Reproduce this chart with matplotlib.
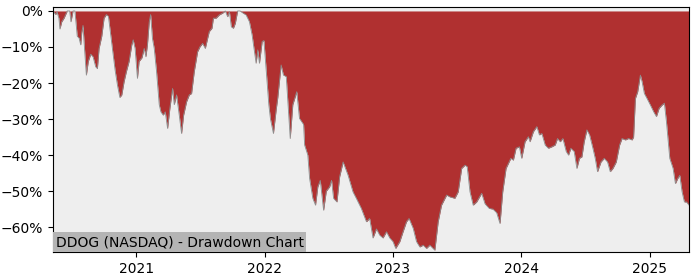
import matplotlib
matplotlib.use("Agg")
import matplotlib.pyplot as plt
import matplotlib.dates as mdates
import numpy as np
import pandas as pd
from matplotlib.ticker import PercentFormatter

# dates as decimal years, drawdown in percent
years = [
    2020.352, 2020.373, 2020.383, 2020.398, 2020.406, 2020.420, 2020.438, 2020.463,
    2020.482, 2020.492, 2020.508, 2020.523, 2020.541, 2020.555, 2020.568, 2020.576,
    2020.586, 2020.594, 2020.612, 2020.627, 2020.646, 2020.664, 2020.685, 2020.698,
    2020.711, 2020.732, 2020.750, 2020.768, 2020.784, 2020.802, 2020.820, 2020.836,
    2020.854, 2020.873, 2020.888, 2020.906, 2020.924, 2020.945, 2020.966, 2020.977,
    2020.992, 2021.010, 2021.023, 2021.045, 2021.063, 2021.076, 2021.088, 2021.102,
    2021.113, 2021.127, 2021.141, 2021.159, 2021.180, 2021.193, 2021.211, 2021.227,
    2021.245, 2021.263, 2021.284, 2021.297, 2021.315, 2021.336, 2021.354, 2021.370,
    2021.393, 2021.414, 2021.432, 2021.453, 2021.479, 2021.498, 2021.518, 2021.539,
    2021.557, 2021.570, 2021.591, 2021.602, 2021.623, 2021.648, 2021.674, 2021.695,
    2021.713, 2021.727, 2021.742, 2021.758, 2021.773, 2021.791, 2021.810, 2021.830,
    2021.857, 2021.883, 2021.904, 2021.922, 2021.935, 2021.948, 2021.961, 2021.982,
    2021.996, 2022.013, 2022.034, 2022.047, 2022.070, 2022.091, 2022.104, 2022.130,
    2022.148, 2022.170, 2022.182, 2022.201, 2022.221, 2022.252, 2022.273, 2022.305,
    2022.313, 2022.338, 2022.352, 2022.377, 2022.398, 2022.416, 2022.435, 2022.461,
    2022.482, 2022.508, 2022.523, 2022.539, 2022.565, 2022.586, 2022.613, 2022.651,
    2022.690, 2022.716, 2022.755, 2022.795, 2022.820, 2022.846, 2022.873, 2022.898,
    2022.924, 2022.951, 2022.977, 2023.002, 2023.023, 2023.055, 2023.080, 2023.107,
    2023.127, 2023.159, 2023.185, 2023.211, 2023.237, 2023.263, 2023.289, 2023.328,
    2023.354, 2023.380, 2023.420, 2023.445, 2023.484, 2023.510, 2023.537, 2023.563,
    2023.580, 2023.602, 2023.627, 2023.654, 2023.693, 2023.719, 2023.752, 2023.781,
    2023.810, 2023.836, 2023.857, 2023.883, 2023.920, 2023.940, 2023.961, 2023.987,
    2024.005, 2024.031, 2024.057, 2024.070, 2024.096, 2024.123, 2024.143, 2024.162,
    2024.188, 2024.213, 2024.240, 2024.266, 2024.284, 2024.305, 2024.326, 2024.352,
    2024.370, 2024.388, 2024.414, 2024.435, 2024.455, 2024.474, 2024.492, 2024.513,
    2024.534, 2024.560, 2024.578, 2024.596, 2024.623, 2024.648, 2024.674, 2024.695,
    2024.716, 2024.742, 2024.768, 2024.787, 2024.813, 2024.838, 2024.865, 2024.877,
    2024.891, 2024.909, 2024.930, 2024.943, 2024.961, 2024.982, 2025.008, 2025.034,
    2025.055, 2025.076, 2025.099, 2025.117, 2025.133, 2025.159, 2025.185, 2025.203,
    2025.221, 2025.237, 2025.255, 2025.273, 2025.289, 2025.309,
]
drawdown = [
    0.0, -1.0, -0.2, -2.0, -5.0, -3.0, -2.0, 0.0,
    0.0, -3.0, 0.0, 0.0, -7.0, -7.5, -9.4, -6.0,
    -4.0, -8.5, -17.8, -14.0, -12.0, -12.7, -15.5, -16.0,
    -10.4, -7.0, -2.0, -1.0, -1.5, -6.7, -12.0, -16.4,
    -20.5, -24.0, -23.3, -19.6, -16.8, -14.0, -9.4, -8.0,
    -10.4, -18.7, -14.0, -13.0, -10.4, -12.7, -9.4, -3.0,
    -1.0, -7.6, -10.4, -16.8, -26.0, -28.0, -28.9, -28.0,
    -32.6, -27.0, -21.5, -26.0, -23.3, -28.9, -34.0, -28.9,
    -25.2, -23.3, -22.9, -16.8, -11.3, -9.9, -9.0, -10.4,
    -7.6, -5.7, -4.8, -2.0, -2.0, -1.1, -0.6, 0.0,
    -1.6, -0.2, -4.4, -4.8, -3.4, 0.0, 0.0, -0.5,
    -1.1, -3.0, -6.7, -11.3, -14.5, -10.8, -14.5, -8.5,
    -8.2, -16.0, -26.0, -30.0, -34.0, -27.5, -24.0, -15.0,
    -17.8, -18.2, -25.0, -35.4, -26.0, -22.4, -29.8, -31.5,
    -37.2, -40.0, -46.5, -52.0, -53.9, -48.8, -47.0, -55.3,
    -50.0, -48.8, -47.0, -52.0, -53.0, -46.0, -41.9, -45.5,
    -50.2, -52.0, -54.8, -58.5, -57.6, -63.0, -60.5, -62.2,
    -63.0, -61.3, -63.0, -64.0, -65.9, -64.0, -61.3, -58.5,
    -57.6, -60.3, -64.0, -65.5, -65.0, -65.9, -65.0, -66.4,
    -58.5, -53.9, -51.1, -51.6, -52.0, -50.2, -43.7, -42.8,
    -43.2, -50.2, -53.9, -53.0, -50.6, -53.5, -54.8, -55.0,
    -56.0, -59.0, -50.2, -43.7, -40.9, -41.4, -38.1, -37.7,
    -40.9, -36.3, -34.9, -36.3, -33.5, -32.1, -34.4, -34.0,
    -37.2, -38.1, -37.7, -37.2, -35.4, -36.3, -35.4, -39.0,
    -40.0, -38.1, -39.0, -43.7, -40.9, -40.5, -36.3, -33.0,
    -34.4, -38.1, -40.9, -44.6, -41.9, -40.9, -41.9, -44.6,
    -43.7, -41.9, -37.2, -35.4, -35.8, -35.4, -35.8, -35.0,
    -24.3, -22.4, -17.8, -19.6, -22.9, -24.3, -26.1, -28.0,
    -29.3, -27.0, -26.1, -25.6, -30.7, -40.9, -43.7, -47.9,
    -46.5, -45.6, -50.2, -53.0, -53.0, -53.9,
]
title = "DDOG (NASDAQ) - Drawdown Chart"

yrs = np.array(years)
dates = pd.to_datetime("2020-01-01") + pd.to_timedelta((yrs - 2020.0) * 365.25, unit="D")
dd = np.array(drawdown) / 100.0

fig = plt.figure(figsize=(7, 2.8), dpi=100)
ax = fig.add_axes([0.0757, 0.1, 0.9086, 0.875])
ax.set_facecolor("#eeeeee")

ax.fill_between(dates, dd, 0, color="#b03030", linewidth=0)
ax.plot(dates, dd, color="#8c8c8c", linewidth=0.6)

ax.set_xlim(dates[0], dates[-1])
ax.set_ylim(-0.669, 0.011)
ax.set_yticks([0, -0.1, -0.2, -0.3, -0.4, -0.5, -0.6])
ax.yaxis.set_major_formatter(PercentFormatter(1.0, decimals=0))
ax.xaxis.set_major_locator(mdates.YearLocator())
ax.xaxis.set_major_formatter(mdates.DateFormatter("%Y"))

ax.text(0.004, 0.012, title, transform=ax.transAxes, fontsize=10,
        ha="left", va="bottom",
        bbox=dict(facecolor="#b4b4b4", edgecolor="none", pad=2))

fig.savefig("out.png", dpi=100)
